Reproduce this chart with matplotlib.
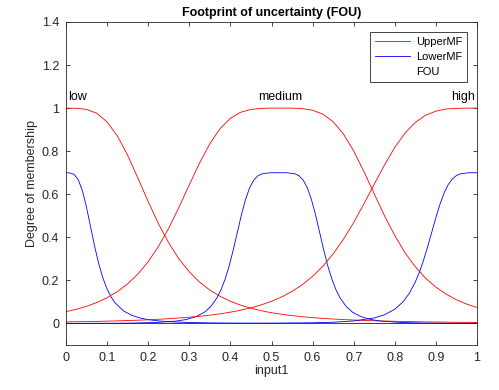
import matplotlib
matplotlib.use('Agg')
from matplotlib import pyplot as plt
from matplotlib.lines import Line2D

plt.rcParams['font.family'] = ['Liberation Sans', 'DejaVu Sans']

# values
x_upper = [0, 0.025, 0.05, 0.075, 0.1, 0.125, 0.15, 0.175, 0.2, 0.225,
           0.25, 0.275, 0.3, 0.325, 0.35, 0.375, 0.4, 0.425, 0.45, 0.475,
           0.5, 0.525, 0.55, 0.575, 0.6, 0.625, 0.65, 0.675, 0.7, 0.725,
           0.75, 0.775, 0.8, 0.825, 0.85, 0.875, 0.9, 0.925, 0.95, 0.975, 1.0]

upper_low = [1.0, 0.9995, 0.994, 0.976, 0.936, 0.871, 0.781, 0.675, 0.566, 0.463,
             0.374, 0.299, 0.240, 0.192, 0.155, 0.126, 0.103, 0.085, 0.071, 0.059,
             0.050, 0.0426, 0.0364, 0.0313, 0.0271, 0.0236, 0.0206, 0.0181, 0.016, 0.0142,
             0.0126, 0.0112, 0.0101, 0.0091, 0.0082, 0.0074, 0.0067, 0.0061, 0.0055, 0.0051, 0.0046]

upper_medium = [0.0547, 0.0658, 0.0797, 0.0973, 0.1196, 0.148, 0.184, 0.230, 0.287, 0.358,
                0.443, 0.540, 0.644, 0.745, 0.835, 0.905, 0.953, 0.981, 0.994, 0.999,
                1.0, 1.0, 1.0, 0.998, 0.990, 0.972, 0.937, 0.880, 0.801, 0.705,
                0.602, 0.5, 0.408, 0.328, 0.263, 0.210, 0.169, 0.136, 0.110, 0.090, 0.074]

upper_high = [0.0071, 0.0079, 0.0087, 0.0097, 0.0108, 0.0121, 0.0135, 0.0152, 0.0172, 0.0195,
              0.0222, 0.0253, 0.029, 0.0334, 0.0386, 0.0449, 0.0524, 0.0616, 0.0727, 0.0863,
              0.103, 0.1235, 0.149, 0.180, 0.219, 0.266, 0.323, 0.391, 0.469, 0.556,
              0.647, 0.736, 0.818, 0.884, 0.934, 0.967, 0.986, 0.996, 0.999, 1.0, 1.0]

x_lower_low = [0, 0.01, 0.02, 0.03, 0.04, 0.05, 0.06, 0.07, 0.08, 0.09, 0.1, 0.11, 0.12,
               0.14, 0.16, 0.18, 0.2, 0.225, 0.25, 0.3, 0.35, 0.4, 0.5, 0.6, 0.7, 0.8, 0.9, 1.0]
lower_low = [0.7, 0.699, 0.692, 0.667, 0.616, 0.539, 0.447, 0.355, 0.275, 0.210, 0.160, 0.122, 0.0946,
             0.0584, 0.0378, 0.0255, 0.0178, 0.0119, 0.0083, 0.0044, 0.0026, 0.0016, 0.0007, 0.0004,
             0.0003, 0.0002, 0.0001, 0.0001]

x_lower_medium = [0, 0.117, 0.167, 0.217, 0.267, 0.292, 0.317, 0.337, 0.352, 0.367,
                  0.377, 0.387, 0.397, 0.407, 0.417, 0.427, 0.437, 0.447, 0.457, 0.467,
                  0.477, 0.497, 0.517, 0.537, 0.557, 0.567, 0.577, 0.587, 0.597, 0.607,
                  0.617, 0.627, 0.637, 0.647, 0.657, 0.667, 0.682, 0.697, 0.717, 0.742,
                  0.767, 0.817, 0.867, 0.917, 1.0]
lower_medium = [0.0003, 0.001, 0.002, 0.0044, 0.0109, 0.0182, 0.0321, 0.0527, 0.0782, 0.118,
                0.156, 0.205, 0.267, 0.342, 0.424, 0.506, 0.577, 0.631, 0.666, 0.686,
                0.695, 0.700, 0.700, 0.700, 0.695, 0.686, 0.666, 0.631, 0.577, 0.506,
                0.424, 0.342, 0.267, 0.205, 0.156, 0.118, 0.0782, 0.0527, 0.0321, 0.0182,
                0.0109, 0.0044, 0.002, 0.001, 0.0004]

x_lower_high = [0, 0.2, 0.3, 0.4, 0.5, 0.6, 0.65, 0.7, 0.75, 0.775, 0.8, 0.82, 0.835, 0.85,
                0.86, 0.87, 0.88, 0.89, 0.9, 0.91, 0.92, 0.93, 0.94, 0.95, 0.96, 0.98, 1.0]
lower_high = [0.0001, 0.0002, 0.0003, 0.0005, 0.0012, 0.0032, 0.0058, 0.0116, 0.0257, 0.0405,
              0.066, 0.1004, 0.139, 0.193, 0.239, 0.294, 0.357, 0.424, 0.492, 0.554,
              0.606, 0.645, 0.671, 0.687, 0.695, 0.700, 0.7]

mf_names = ['low', 'medium', 'high']
mf_label_x = [0.005, 0.52, 0.995]
mf_label_ha = ['left', 'center', 'right']

x_ticks = [0, 0.1, 0.2, 0.3, 0.4, 0.5, 0.6, 0.7, 0.8, 0.9, 1]
x_ticklabels = ['0', '0.1', '0.2', '0.3', '0.4', '0.5', '0.6', '0.7', '0.8', '0.9', '1']
y_ticks = [0, 0.2, 0.4, 0.6, 0.8, 1, 1.2, 1.4]
y_ticklabels = ['0', '0.2', '0.4', '0.6', '0.8', '1', '1.2', '1.4']

grey = (0.15, 0.15, 0.15)

fig = plt.figure(figsize=(4.99, 3.9), dpi=100)
ax = fig.add_axes([66 / 499, 1 - 345 / 390, 411 / 499, 323 / 390])

lw = 0.6
ax.plot(x_upper, upper_low, color='r', lw=lw)
ax.plot(x_lower_low, lower_low, color='b', lw=lw)
ax.plot(x_upper, upper_medium, color='r', lw=lw)
ax.plot(x_lower_medium, lower_medium, color='b', lw=lw)
ax.plot(x_upper, upper_high, color='r', lw=lw)
ax.plot(x_lower_high, lower_high, color='b', lw=lw)

for name, xp, ha in zip(mf_names, mf_label_x, mf_label_ha):
    ax.text(xp, 1.025, name, ha=ha, va='bottom', fontsize=9, color='black')

ax.set_xlim(0, 1)
ax.set_ylim(-0.1, 1.4)
ax.set_xticks(x_ticks)
ax.set_xticklabels(x_ticklabels)
ax.set_yticks(y_ticks)
ax.set_yticklabels(y_ticklabels)
ax.tick_params(direction='in', length=3, width=0.6, colors=grey, labelsize=9,
               top=True, right=True, pad=5)
for s in ax.spines.values():
    s.set_color(grey)
    s.set_linewidth(0.6)

ax.set_title('Footprint of uncertainty (FOU)', fontsize=9, fontweight='bold', pad=4)
ax.set_xlabel('input1', fontsize=9, color=grey, labelpad=1)
ax.set_ylabel('Degree of membership', fontsize=9, color=grey, labelpad=3)

handles = [Line2D([], [], color='r', lw=lw),
           Line2D([], [], color='b', lw=lw),
           Line2D([], [], linestyle='none')]
leg = ax.legend(handles, ['UpperMF', 'LowerMF', 'FOU'], loc='upper right',
                fontsize=8, fancybox=False, framealpha=1, edgecolor=grey,
                borderaxespad=0.9, handlelength=3.1, handletextpad=0.55,
                labelspacing=0.45, borderpad=0.45)
leg.get_frame().set_linewidth(0.6)

fig.savefig('out.png', dpi=100)
